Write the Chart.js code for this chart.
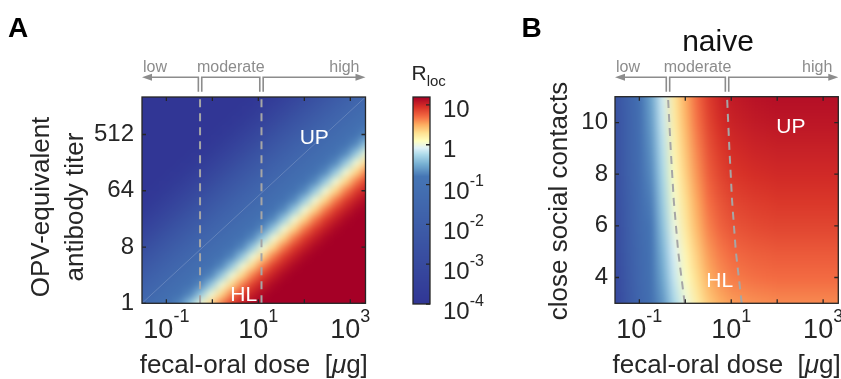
<!DOCTYPE html>
<html>
<head>
<meta charset="utf-8">
<script src="https://cdn.jsdelivr.net/npm/chart.js@4.4.1/dist/chart.umd.min.js"></script>
<style>
  body { margin: 0; background: #fff; width: 841px; height: 379px; overflow: hidden; position: relative; }
  canvas { position: absolute; top: 0; }
  #chartA { left: 0; }
  #cbar { left: 380px; }
  #chartB { left: 500px; }
</style>
</head>
<body>
<canvas id="chartA" width="380" height="379"></canvas>
<canvas id="cbar" width="120" height="379"></canvas>
<canvas id="chartB" width="341" height="379"></canvas>
<script>
// panel A grid columns: log10 of fecal-oral dose [ug]
const doseLogA = [-1.6, -1.375, -1.15, -0.925, -0.7, -0.475, -0.25, -0.025, 0.2, 0.425, 0.65, 0.875, 1.1, 1.325, 1.55, 1.775, 2.0, 2.225, 2.45, 2.675, 2.9, 3.125, 3.35];
// panel A grid rows: log2 of antibody titer; values are log10(R_loc)
const titerLog2 = [0, 0.5, 1, 1.5, 2, 2.5, 3, 3.5, 4, 4.5, 5, 5.5, 6, 6.5, 7, 7.5, 8, 8.5, 9, 9.5, 10, 10.5, 11];
const rlocA = [
  [-1.46, -1.28, -1.1, -0.92, -0.69, -0.33, 0.03, 0.34, 0.66, 0.9, 1.05, 1.16, 1.2, 1.2, 1.2, 1.2, 1.2, 1.2, 1.2, 1.2, 1.2, 1.2, 1.2],
  [-1.66, -1.46, -1.28, -1.1, -0.92, -0.69, -0.33, 0.03, 0.34, 0.66, 0.9, 1.05, 1.16, 1.2, 1.2, 1.2, 1.2, 1.2, 1.2, 1.2, 1.2, 1.2, 1.2],
  [-1.88, -1.66, -1.46, -1.28, -1.1, -0.92, -0.69, -0.33, 0.03, 0.34, 0.66, 0.9, 1.05, 1.16, 1.2, 1.2, 1.2, 1.2, 1.2, 1.2, 1.2, 1.2, 1.2],
  [-2.11, -1.88, -1.66, -1.46, -1.28, -1.1, -0.92, -0.69, -0.33, 0.03, 0.34, 0.66, 0.9, 1.05, 1.16, 1.2, 1.2, 1.2, 1.2, 1.2, 1.2, 1.2, 1.2],
  [-2.38, -2.11, -1.88, -1.66, -1.46, -1.28, -1.1, -0.92, -0.69, -0.33, 0.03, 0.34, 0.66, 0.9, 1.05, 1.16, 1.2, 1.2, 1.2, 1.2, 1.2, 1.2, 1.2],
  [-2.65, -2.38, -2.11, -1.88, -1.66, -1.46, -1.28, -1.1, -0.92, -0.69, -0.33, 0.03, 0.34, 0.66, 0.9, 1.05, 1.16, 1.2, 1.2, 1.2, 1.2, 1.2, 1.2],
  [-2.92, -2.65, -2.38, -2.11, -1.88, -1.66, -1.46, -1.28, -1.1, -0.92, -0.69, -0.33, 0.03, 0.34, 0.66, 0.9, 1.05, 1.16, 1.2, 1.2, 1.2, 1.2, 1.2],
  [-3.19, -2.92, -2.65, -2.38, -2.11, -1.88, -1.66, -1.46, -1.28, -1.1, -0.92, -0.69, -0.33, 0.03, 0.34, 0.66, 0.9, 1.05, 1.16, 1.2, 1.2, 1.2, 1.2],
  [-3.43, -3.19, -2.92, -2.65, -2.38, -2.11, -1.88, -1.66, -1.46, -1.28, -1.1, -0.92, -0.69, -0.33, 0.03, 0.34, 0.66, 0.9, 1.05, 1.16, 1.2, 1.2, 1.2],
  [-3.66, -3.43, -3.19, -2.92, -2.65, -2.38, -2.11, -1.88, -1.66, -1.46, -1.28, -1.1, -0.92, -0.69, -0.33, 0.03, 0.34, 0.66, 0.9, 1.05, 1.16, 1.2, 1.2],
  [-3.83, -3.66, -3.43, -3.19, -2.92, -2.65, -2.38, -2.11, -1.88, -1.66, -1.46, -1.28, -1.1, -0.92, -0.69, -0.33, 0.03, 0.34, 0.66, 0.9, 1.05, 1.16, 1.2],
  [-3.92, -3.83, -3.66, -3.43, -3.19, -2.92, -2.65, -2.38, -2.11, -1.88, -1.66, -1.46, -1.28, -1.1, -0.92, -0.69, -0.33, 0.03, 0.34, 0.66, 0.9, 1.05, 1.16],
  [-4, -3.92, -3.83, -3.66, -3.43, -3.19, -2.92, -2.65, -2.38, -2.11, -1.88, -1.66, -1.46, -1.28, -1.1, -0.92, -0.69, -0.33, 0.03, 0.34, 0.66, 0.9, 1.05],
  [-4, -4, -3.92, -3.83, -3.66, -3.43, -3.19, -2.92, -2.65, -2.38, -2.11, -1.88, -1.66, -1.46, -1.28, -1.1, -0.92, -0.69, -0.33, 0.03, 0.34, 0.66, 0.9],
  [-4, -4, -4, -3.92, -3.83, -3.66, -3.43, -3.19, -2.92, -2.65, -2.38, -2.11, -1.88, -1.66, -1.46, -1.28, -1.1, -0.92, -0.69, -0.33, 0.03, 0.34, 0.66],
  [-4, -4, -4, -4, -3.92, -3.83, -3.66, -3.43, -3.19, -2.92, -2.65, -2.38, -2.11, -1.88, -1.66, -1.46, -1.28, -1.1, -0.92, -0.69, -0.33, 0.03, 0.34],
  [-4, -4, -4, -4, -4, -3.92, -3.83, -3.66, -3.43, -3.19, -2.92, -2.65, -2.38, -2.11, -1.88, -1.66, -1.46, -1.28, -1.1, -0.92, -0.69, -0.33, 0.03],
  [-4, -4, -4, -4, -4, -4, -3.92, -3.83, -3.66, -3.43, -3.19, -2.92, -2.65, -2.38, -2.11, -1.88, -1.66, -1.46, -1.28, -1.1, -0.92, -0.69, -0.33],
  [-4, -4, -4, -4, -4, -4, -4, -3.92, -3.83, -3.66, -3.43, -3.19, -2.92, -2.65, -2.38, -2.11, -1.88, -1.66, -1.46, -1.28, -1.1, -0.92, -0.69],
  [-4, -4, -4, -4, -4, -4, -4, -4, -3.92, -3.83, -3.66, -3.43, -3.19, -2.92, -2.65, -2.38, -2.11, -1.88, -1.66, -1.46, -1.28, -1.1, -0.92],
  [-4, -4, -4, -4, -4, -4, -4, -4, -4, -3.92, -3.83, -3.66, -3.43, -3.19, -2.92, -2.65, -2.38, -2.11, -1.88, -1.66, -1.46, -1.28, -1.1],
  [-4, -4, -4, -4, -4, -4, -4, -4, -4, -4, -3.92, -3.83, -3.66, -3.43, -3.19, -2.92, -2.65, -2.38, -2.11, -1.88, -1.66, -1.46, -1.28],
  [-4, -4, -4, -4, -4, -4, -4, -4, -4, -4, -4, -3.92, -3.83, -3.66, -3.43, -3.19, -2.92, -2.65, -2.38, -2.11, -1.88, -1.66, -1.46]
];

// panel B grid columns: log10 of fecal-oral dose [ug]
const doseLogB = [-1.5, -1.25, -1, -0.75, -0.5, -0.25, 0, 0.25, 0.5, 0.75, 1, 1.25, 1.5, 1.75, 2, 2.25, 2.5, 2.75, 3, 3.25, 3.5];
// panel B grid rows: close social contacts; values are log10(R_loc)
const contacts = [3, 4, 5, 6, 7, 8, 9, 10, 11];
const rlocB = [
  [-3.01, -2.21, -1.56, -1.06, -0.63, -0.26, -0.01, 0.21, 0.39, 0.49, 0.55, 0.57, 0.59, 0.6, 0.61, 0.61, 0.61, 0.61, 0.61, 0.61, 0.61],
  [-2.91, -2.11, -1.46, -0.96, -0.53, -0.16, 0.09, 0.31, 0.49, 0.59, 0.65, 0.67, 0.69, 0.7, 0.71, 0.71, 0.71, 0.71, 0.71, 0.71, 0.71],
  [-2.84, -2.04, -1.39, -0.89, -0.46, -0.09, 0.16, 0.38, 0.56, 0.66, 0.72, 0.74, 0.76, 0.77, 0.78, 0.78, 0.78, 0.78, 0.78, 0.78, 0.78],
  [-2.76, -1.96, -1.31, -0.81, -0.38, -0.01, 0.24, 0.46, 0.64, 0.74, 0.8, 0.82, 0.84, 0.85, 0.86, 0.86, 0.86, 0.86, 0.86, 0.86, 0.86],
  [-2.7, -1.9, -1.25, -0.75, -0.32, 0.05, 0.3, 0.52, 0.7, 0.8, 0.86, 0.88, 0.9, 0.91, 0.92, 0.92, 0.92, 0.92, 0.92, 0.92, 0.92],
  [-2.64, -1.84, -1.19, -0.69, -0.26, 0.11, 0.36, 0.58, 0.76, 0.86, 0.92, 0.94, 0.96, 0.97, 0.98, 0.98, 0.98, 0.98, 0.98, 0.98, 0.98],
  [-2.59, -1.79, -1.14, -0.64, -0.21, 0.16, 0.41, 0.63, 0.81, 0.91, 0.97, 0.99, 1.01, 1.02, 1.03, 1.03, 1.03, 1.03, 1.03, 1.03, 1.03],
  [-2.54, -1.74, -1.09, -0.59, -0.16, 0.21, 0.46, 0.68, 0.86, 0.96, 1.02, 1.04, 1.06, 1.07, 1.08, 1.08, 1.08, 1.08, 1.08, 1.08, 1.08],
  [-2.5, -1.7, -1.05, -0.55, -0.12, 0.25, 0.5, 0.72, 0.9, 1.0, 1.06, 1.08, 1.1, 1.11, 1.12, 1.12, 1.12, 1.12, 1.12, 1.12, 1.12]
];

// low / moderate / high dose boundaries (dashed lines)
const boundsA = [0.54, 11.7];
const boundContacts = [3, 5, 7, 9, 11];
const boundLowB = [0.97, 0.70, 0.56, 0.48, 0.42];
const boundHighB = [16.9, 12.6, 10.4, 9.1, 8.1];

// ticks
const doseTicks = [0.1, 1, 10, 100, 1000];
const doseLabelExp = [-1, 1, 3];
const titerTicks = [1, 8, 64, 512];
const contactTicks = [4, 6, 8, 10];
const cbarExp = [-4, -3, -2, -1, 0, 1];

const FONT = "'Liberation Sans', Arial, sans-serif";
const INK = '#262626';
const GRAY = '#8c8c8c';
Chart.defaults.font.family = FONT;
Chart.defaults.color = INK;

// colour map over log10(R_loc)
const cmapStops = [
  [-4.0, [49, 54, 149]],
  [-0.8, [69, 117, 180]],
  [-0.5, [116, 173, 209]],
  [-0.25, [171, 217, 233]],
  [-0.08, [224, 243, 248]],
  [0.1, [255, 255, 191]],
  [0.3, [254, 224, 144]],
  [0.5, [253, 174, 97]],
  [0.7, [244, 109, 67]],
  [0.95, [215, 48, 39]],
  [1.2, [165, 0, 38]]
];

function rlocColor(v) {
  if (v <= cmapStops[0][0]) return cmapStops[0][1];
  for (let i = 1; i < cmapStops.length; i++) {
    const [v1, c1] = cmapStops[i];
    if (v <= v1) {
      const [v0, c0] = cmapStops[i - 1];
      const f = (v - v0) / (v1 - v0);
      return c0.map((c, k) => Math.round(c + (c1[k] - c) * f));
    }
  }
  return cmapStops[cmapStops.length - 1][1];
}

// draws a value grid as a smoothed image placed with the chart scales
function heatmapPlugin(grid, xEdges, yEdges) {
  return {
    id: 'heatmap',
    beforeDatasetsDraw(chart) {
      const { ctx, chartArea: a, scales: { x, y } } = chart;
      const ny = grid.length, nx = grid[0].length;
      const img = document.createElement('canvas');
      img.width = nx; img.height = ny;
      const ictx = img.getContext('2d');
      const pix = ictx.createImageData(nx, ny);
      for (let r = 0; r < ny; r++) {
        for (let c = 0; c < nx; c++) {
          const col = rlocColor(grid[r][c]);
          const k = ((ny - 1 - r) * nx + c) * 4;
          pix.data[k] = col[0]; pix.data[k + 1] = col[1]; pix.data[k + 2] = col[2]; pix.data[k + 3] = 255;
        }
      }
      ictx.putImageData(pix, 0, 0);
      const x0 = x.getPixelForValue(xEdges[0]), x1 = x.getPixelForValue(xEdges[1]);
      const y0 = y.getPixelForValue(yEdges[1]), y1 = y.getPixelForValue(yEdges[0]);
      ctx.save();
      ctx.beginPath();
      ctx.rect(a.left, a.top, a.right - a.left, a.bottom - a.top);
      ctx.clip();
      ctx.imageSmoothingEnabled = true;
      ctx.drawImage(img, x0, y0, x1 - x0, y1 - y0);
      // soft second pass hides the interpolation pattern
      ctx.filter = 'blur(2.5px)';
      ctx.drawImage(img, x0, y0, x1 - x0, y1 - y0);
      ctx.restore();
    }
  };
}

function logEdges(list) {
  const h = (list[1] - list[0]) / 2;
  return [10 ** (list[0] - h), 10 ** (list[list.length - 1] + h)];
}

function drawFrame(chart, xTicks, yTicks) {
  const { ctx, chartArea: a, scales: { x, y } } = chart;
  ctx.save();
  ctx.strokeStyle = INK;
  ctx.lineWidth = 1.3;
  ctx.strokeRect(a.left, a.top, a.right - a.left, a.bottom - a.top);
  ctx.beginPath();
  xTicks.forEach(v => {
    const px = x.getPixelForValue(v);
    ctx.moveTo(px, a.bottom); ctx.lineTo(px, a.bottom - 4);
    ctx.moveTo(px, a.top); ctx.lineTo(px, a.top + 4);
  });
  yTicks.forEach(v => {
    const py = y.getPixelForValue(v);
    ctx.moveTo(a.left, py); ctx.lineTo(a.left + 4, py);
    ctx.moveTo(a.right, py); ctx.lineTo(a.right - 4, py);
  });
  ctx.stroke();
  ctx.restore();
}

// "10" with a raised exponent
function drawPow(ctx, px, base, e, big, small, raise, align) {
  ctx.font = big + 'px ' + FONT;
  const w1 = ctx.measureText('10').width;
  ctx.font = small + 'px ' + FONT;
  const w2 = ctx.measureText(String(e)).width;
  const x0 = align === 'center' ? px - (w1 + w2) / 2 : px;
  ctx.textAlign = 'left';
  ctx.font = big + 'px ' + FONT;
  ctx.fillText('10', x0, base);
  ctx.font = small + 'px ' + FONT;
  ctx.fillText(String(e), x0 + w1, base - raise);
}

function drawDoseAxis(chart) {
  const { ctx, chartArea: a, scales: { x } } = chart;
  ctx.save();
  ctx.fillStyle = INK;
  ctx.textBaseline = 'alphabetic';
  doseLabelExp.forEach(e => drawPow(ctx, x.getPixelForValue(10 ** e), 338, e, 27, 18, 16, 'center'));
  // axis title with italic mu
  const parts = [['fecal-oral dose  [', ''], ['\u03bc', 'italic '], ['g]', '']];
  let w = 0;
  parts.forEach(p => { ctx.font = p[1] + '26px ' + FONT; w += ctx.measureText(p[0]).width; });
  let px = (a.left + a.right) / 2 - w / 2;
  parts.forEach(p => {
    ctx.font = p[1] + '26px ' + FONT;
    ctx.fillText(p[0], px, 373);
    px += ctx.measureText(p[0]).width;
  });
  ctx.restore();
}

function drawYTitle(ctx, lines, xs, cy) {
  ctx.save();
  ctx.fillStyle = INK;
  ctx.font = '26px ' + FONT;
  ctx.textAlign = 'center';
  ctx.textBaseline = 'alphabetic';
  lines.forEach((t, i) => {
    ctx.save();
    ctx.translate(xs[i], cy);
    ctx.rotate(-Math.PI / 2);
    ctx.fillText(t, 0, 0);
    ctx.restore();
  });
  ctx.restore();
}

// low / moderate / high brackets above the plot
function drawRegions(ctx, a, b1, b2) {
  const yl = 77.3, ye = 91.7, g = 1.7;
  ctx.save();
  ctx.strokeStyle = GRAY;
  ctx.fillStyle = GRAY;
  ctx.lineWidth = 1.6;
  ctx.beginPath();
  ctx.moveTo(b1 - g, ye); ctx.lineTo(b1 - g, yl); ctx.lineTo(a.left + 6, yl);
  ctx.moveTo(b1 + g, ye); ctx.lineTo(b1 + g, yl); ctx.lineTo(b2 - g, yl); ctx.lineTo(b2 - g, ye);
  ctx.moveTo(b2 + g, ye); ctx.lineTo(b2 + g, yl); ctx.lineTo(a.right - 6, yl);
  ctx.stroke();
  ctx.beginPath();
  ctx.moveTo(a.left, yl); ctx.lineTo(a.left + 10, yl - 3.5); ctx.lineTo(a.left + 10, yl + 3.5); ctx.closePath();
  ctx.moveTo(a.right, yl); ctx.lineTo(a.right - 10, yl - 3.5); ctx.lineTo(a.right - 10, yl + 3.5); ctx.closePath();
  ctx.fill();
  ctx.font = '16px ' + FONT;
  ctx.textBaseline = 'alphabetic';
  ctx.textAlign = 'left';
  ctx.fillText('low', a.left + 1, 71.5);
  ctx.textAlign = 'center';
  ctx.fillText('moderate', (b1 + b2) / 2, 71.5);
  ctx.textAlign = 'right';
  ctx.fillText('high', a.right - 6, 71.5);
  ctx.restore();
}

function drawTag(chart, text, xv, yv) {
  const { ctx, scales: { x, y } } = chart;
  ctx.save();
  ctx.fillStyle = '#ffffff';
  ctx.font = '21px ' + FONT;
  ctx.textAlign = 'center';
  ctx.textBaseline = 'alphabetic';
  ctx.fillText(text, x.getPixelForValue(xv), y.getPixelForValue(yv));
  ctx.restore();
}

function doseScale(h) {
  return {
    type: 'logarithmic', min: 10 ** -1.53, max: 10 ** 3.33, bounds: 'data',
    ticks: { display: false },
    grid: { display: false }, border: { display: false },
    afterBuildTicks: s => { s.ticks = doseTicks.map(v => ({ value: v })); },
    afterFit: s => { s.height = h; }
  };
}

function dashed(points) {
  return { data: points, showLine: true, borderColor: '#a6a6a6', borderWidth: 2, borderDash: [8, 6], pointRadius: 0, tension: 0 };
}

// Panel A
const titerHalf = (titerLog2[1] - titerLog2[0]) / 2;
new Chart(document.getElementById('chartA'), {
  type: 'scatter',
  data: {
    datasets: [
      { data: [{ x: 10 ** -1.53, y: 1 }, { x: 10 ** 3.33, y: 2048 }], showLine: true, borderColor: 'rgba(255,255,255,0.18)', borderWidth: 1, pointRadius: 0 },
      dashed([{ x: boundsA[0], y: 1 }, { x: boundsA[0], y: 2048 }]),
      dashed([{ x: boundsA[1], y: 1 }, { x: boundsA[1], y: 2048 }])
    ]
  },
  options: {
    responsive: false, animation: false, events: [],
    layout: { padding: { left: 0, top: 97, right: 14.5, bottom: 0 } },
    plugins: { legend: { display: false }, tooltip: { enabled: false } },
    scales: {
      x: doseScale(379 - 303.3),
      y: {
        type: 'logarithmic', min: 1, max: 2048, bounds: 'data',
        ticks: { font: { size: 24 }, color: INK, padding: 8, callback: v => String(v) },
        grid: { display: false, drawTicks: false }, border: { display: false },
        afterBuildTicks: s => { s.ticks = titerTicks.map(v => ({ value: v })); },
        afterFit: s => { s.width = 142; }
      }
    }
  },
  plugins: [
    heatmapPlugin(rlocA, logEdges(doseLogA), [2 ** (titerLog2[0] - titerHalf), 2 ** (titerLog2[titerLog2.length - 1] + titerHalf)]),
    {
      id: 'decorA',
      afterDraw(chart) {
        const { ctx, chartArea: a, scales: { x } } = chart;
        drawTag(chart, 'UP', 164, 354);
        drawTag(chart, 'HL', 4.8, 1.09);
        drawFrame(chart, doseTicks, titerTicks);
        drawDoseAxis(chart);
        drawYTitle(ctx, ['OPV-equivalent', 'antibody titer'], [49, 83], 207);
        drawRegions(ctx, a, x.getPixelForValue(boundsA[0]), x.getPixelForValue(boundsA[1]));
        ctx.save();
        ctx.fillStyle = '#000';
        ctx.font = 'bold 28px ' + FONT;
        ctx.fillText('A', 8, 37);
        ctx.restore();
      }
    }
  ]
});

// Colour bar
new Chart(document.getElementById('cbar'), {
  type: 'scatter',
  data: { datasets: [] },
  options: {
    responsive: false, animation: false, events: [],
    layout: { padding: { left: 33, top: 97, right: 0, bottom: 75 } },
    plugins: { legend: { display: false }, tooltip: { enabled: false } },
    scales: {
      x: { display: false, min: 0, max: 1 },
      y: {
        type: 'logarithmic', position: 'right', min: 1e-4, max: 10 ** 1.2, bounds: 'data',
        ticks: { display: false }, grid: { display: false }, border: { display: false },
        afterFit: s => { s.width = 70; }
      }
    }
  },
  plugins: [{
    id: 'colorbar',
    afterDraw(chart) {
      const { ctx, chartArea: a, scales: { y } } = chart;
      ctx.save();
      for (let py = Math.floor(a.top); py < a.bottom; py++) {
        const c = rlocColor(Math.log10(y.getValueForPixel(py + 0.5)));
        ctx.fillStyle = 'rgb(' + c.join(',') + ')';
        ctx.fillRect(a.left, py, a.right - a.left, 1);
      }
      ctx.strokeStyle = INK;
      ctx.lineWidth = 1.3;
      ctx.strokeRect(a.left, a.top, a.right - a.left, a.bottom - a.top);
      ctx.beginPath();
      cbarExp.forEach(e => {
        const py = y.getPixelForValue(10 ** e);
        ctx.moveTo(a.right, py); ctx.lineTo(a.right - 4, py);
      });
      ctx.stroke();
      ctx.fillStyle = INK;
      ctx.textBaseline = 'alphabetic';
      cbarExp.forEach(e => {
        const py = y.getPixelForValue(10 ** e);
        if (e === 0 || e === 1) {
          ctx.font = '24px ' + FONT;
          ctx.textAlign = 'left';
          ctx.fillText(e === 0 ? '1' : '10', 63, py + 12);
        } else {
          drawPow(ctx, 63, py + 14.6, e, 24, 16, 13, 'left');
        }
      });
      ctx.textAlign = 'left';
      ctx.font = '21px ' + FONT;
      ctx.fillText('R', 31.5, 79.5);
      const wr = ctx.measureText('R').width;
      ctx.font = '15px ' + FONT;
      ctx.fillText('loc', 31.5 + wr, 85.5);
      ctx.restore();
    }
  }]
});

// Panel B
new Chart(document.getElementById('chartB'), {
  type: 'scatter',
  data: {
    datasets: [
      dashed(boundContacts.map((c, i) => ({ x: boundLowB[i], y: c }))),
      dashed(boundContacts.map((c, i) => ({ x: boundHighB[i], y: c })))
    ]
  },
  options: {
    responsive: false, animation: false, events: [],
    layout: { padding: { left: 0, top: 96.7, right: 341 - 338.3, bottom: 0 } },
    plugins: { legend: { display: false }, tooltip: { enabled: false } },
    scales: {
      x: doseScale(379 - 303.3),
      y: {
        type: 'linear', min: 3, max: 11, bounds: 'data',
        ticks: { font: { size: 24 }, color: INK, padding: 7, callback: v => String(v) },
        grid: { display: false, drawTicks: false }, border: { display: false },
        afterBuildTicks: s => { s.ticks = contactTicks.map(v => ({ value: v })); },
        afterFit: s => { s.width = 115; }
      }
    }
  },
  plugins: [
    heatmapPlugin(rlocB, logEdges(doseLogB), [contacts[0] - 0.5, contacts[contacts.length - 1] + 0.5]),
    {
      id: 'decorB',
      afterDraw(chart) {
        const { ctx, chartArea: a, scales: { x } } = chart;
        drawTag(chart, 'UP', 199, 9.58);
        drawTag(chart, 'HL', 5.6, 3.64);
        drawFrame(chart, doseTicks, contactTicks);
        drawDoseAxis(chart);
        drawYTitle(ctx, ['close social contacts'], [67], 201);
        const top = boundContacts.length - 1;
        drawRegions(ctx, a, x.getPixelForValue(boundLowB[top]), x.getPixelForValue(boundHighB[top]));
        ctx.save();
        ctx.fillStyle = '#000';
        ctx.font = 'bold 28px ' + FONT;
        ctx.fillText('B', 21.5, 37);
        ctx.font = '30px ' + FONT;
        ctx.fillStyle = '#111';
        ctx.textAlign = 'center';
        ctx.fillText('naive', 218, 51);
        ctx.restore();
      }
    }
  ]
});
</script>
</body>
</html>
